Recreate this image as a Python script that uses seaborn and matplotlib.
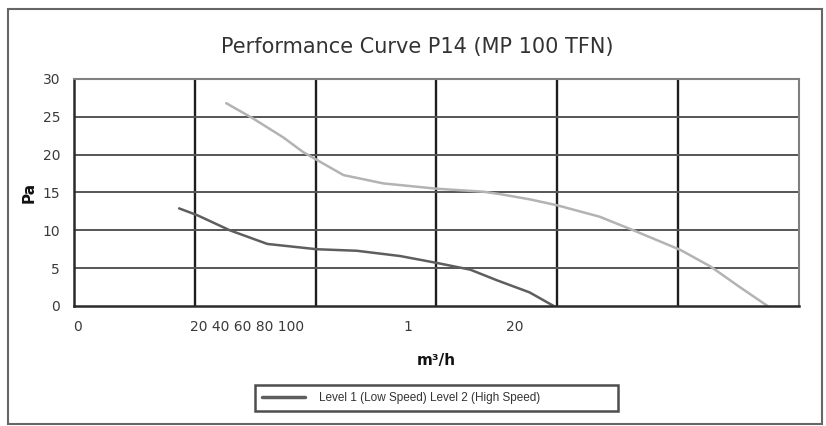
import pandas as pd
import seaborn as sns
import matplotlib.pyplot as plt
from matplotlib.lines import Line2D
from matplotlib.patches import Rectangle

# x is in "grid column" units (6 columns), y in Pa
low_x = [0.87, 1.02, 1.29, 1.60, 2.01, 2.34, 2.70, 3.00, 3.28, 3.50, 3.77, 3.97]
low_y = [12.9, 12.0, 10.0, 8.2, 7.5, 7.3, 6.6, 5.7, 4.8, 3.4, 1.8, 0.0]

high_x = [1.26, 1.48, 1.73, 1.90, 2.01, 2.23, 2.56, 3.00, 3.39, 3.52, 3.77, 4.00,
          4.35, 4.63, 5.02, 5.27, 5.51, 5.74]
high_y = [26.8, 24.8, 22.3, 20.3, 19.3, 17.3, 16.2, 15.5, 15.1, 14.8, 14.1, 13.3,
          11.8, 10.0, 7.4, 5.2, 2.5, 0.0]

x_tick_pos = [0.03, 1.43, 2.76, 3.65]
x_tick_labels = ['0', '20 40 60 80 100', '1', '20']
y_ticks = [0, 5, 10, 15, 20, 25, 30]
legend_text = 'Level 1 (Low Speed) Level 2 (High Speed)'

df = pd.concat([
    pd.DataFrame({'x': low_x, 'y': low_y, 'speed': 'low'}),
    pd.DataFrame({'x': high_x, 'y': high_y, 'speed': 'high'}),
])

sns.set_style('white')
plt.rcParams['font.family'] = ['DejaVu Sans']

fig = plt.figure(figsize=(8.26, 4.26), dpi=100)
ax = fig.add_axes([0.0896, 0.2817, 0.8777, 0.5329])

sns.lineplot(data=df, x='x', y='y', hue='speed', palette={'low': '#5e5e5e', 'high': '#b3b3b3'},
             sort=False, estimator=None, linewidth=1.8, legend=False, ax=ax)

ax.set_xlim(0, 6)
ax.set_ylim(0, 30)
for v in [1, 2, 3, 4, 5]:
    ax.axvline(v, color='#1e1e1e', lw=1.7, zorder=0)
for v in y_ticks[1:]:
    ax.axhline(v, color='#555555', lw=1.4, zorder=0)

for side in ['top', 'right']:
    ax.spines[side].set_color('#808080')
    ax.spines[side].set_linewidth(1.5)
for side in ['left', 'bottom']:
    ax.spines[side].set_color('#2a2a2a')
    ax.spines[side].set_linewidth(1.8)

ax.set_yticks(y_ticks)
ax.set_xticks(x_tick_pos)
ax.set_xticklabels(x_tick_labels)
ax.tick_params(axis='both', length=0, labelsize=10, colors='#3a3a3a')
ax.tick_params(axis='y', pad=10)
ax.tick_params(axis='x', pad=10)

ax.set_xlabel('m³/h', fontsize=11, fontweight='bold', labelpad=14, color='#111111')
ax.set_ylabel('Pa', fontsize=11, fontweight='bold', labelpad=4, color='#111111')
fig.text(0.505, 0.89, 'Performance Curve P14 (MP 100 TFN)', ha='center', va='center',
         fontsize=15, color='#333333')

handle = Line2D([], [], color='#5e5e5e', lw=2.5)
leg = fig.legend([handle], [legend_text], loc='center', mode='expand',
                 bbox_to_anchor=(0.3087, 0.0329, 0.4395, 0.0657),
                 frameon=True, fancybox=False, handlelength=3.6, handletextpad=1.2,
                 borderpad=0.6, borderaxespad=0,
                 prop={'family': 'Liberation Sans', 'size': 8.5})
leg.get_frame().set_edgecolor('#222222')
leg.get_frame().set_linewidth(1.8)
for t in leg.get_texts():
    t.set_color('#333333')

fig.patches.append(Rectangle((0.0097, 0.0047), 0.985, 0.974, transform=fig.transFigure,
                             fill=False, edgecolor='#666666', lw=1.5))

fig.savefig('out.png', dpi=100)
